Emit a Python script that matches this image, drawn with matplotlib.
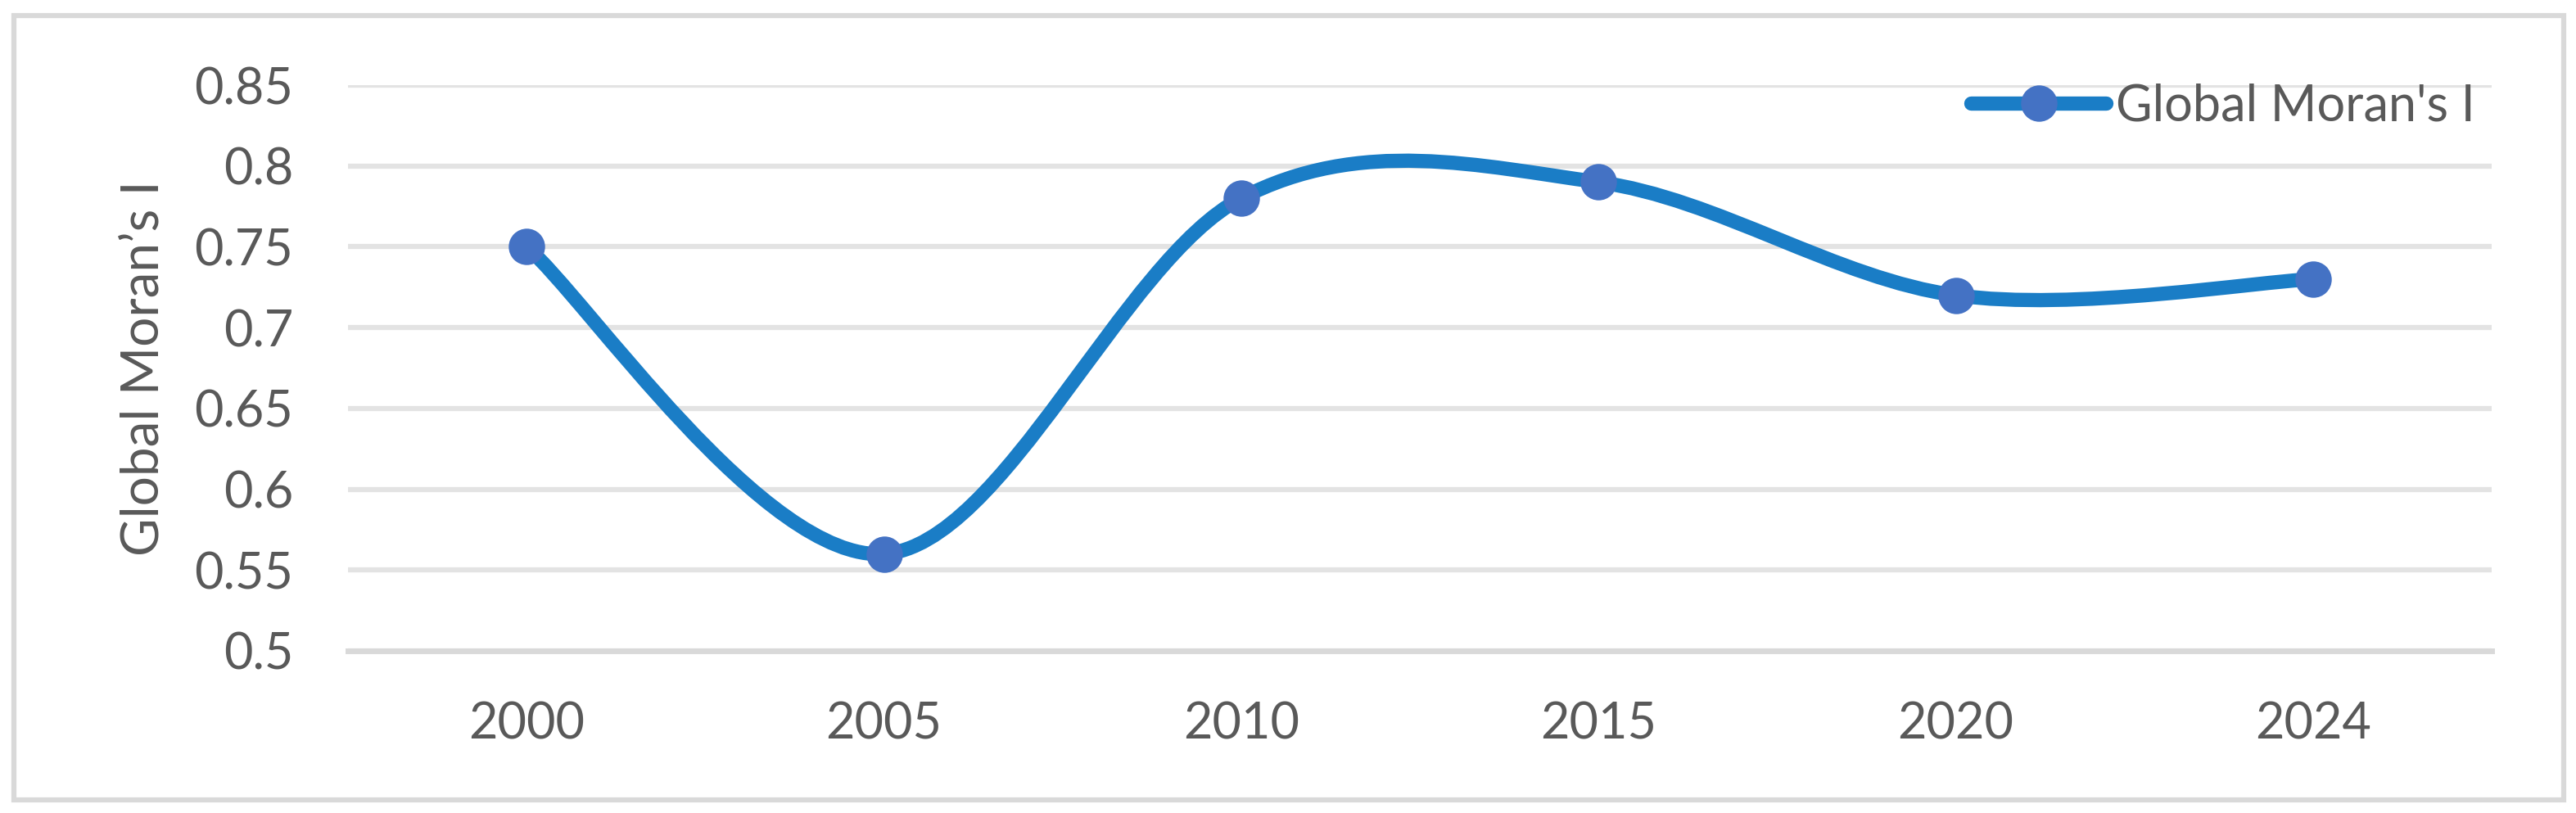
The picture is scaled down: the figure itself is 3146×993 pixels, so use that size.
import matplotlib
matplotlib.use("Agg")
import matplotlib.pyplot as plt
from matplotlib.path import Path
from matplotlib.patches import PathPatch, Rectangle
from matplotlib.lines import Line2D

# data
years = ["2000", "2005", "2010", "2015", "2020", "2024"]
morans_i = [0.75, 0.56, 0.78, 0.79, 0.72, 0.73]
y_ticks = [0.5, 0.55, 0.6, 0.65, 0.7, 0.75, 0.8, 0.85]

plt.rcParams['font.family'] = ['Lato', 'DejaVu Sans']
text_col = '#595959'
line_col = '#1a7dc6'
mark_col = '#4472c4'

W, H = 3146, 993
ax_l, ax_r, ax_t, ax_b = 425, 3043, 104, 795
fig = plt.figure(figsize=(W / 100, H / 100), dpi=100)
ax = fig.add_axes([ax_l / W, 1 - ax_b / H, (ax_r - ax_l) / W, (ax_b - ax_t) / H])

# outer chart border
fig.patches.append(Rectangle((17 / W, 1 - 977 / H), (3131 - 17) / W, (977 - 19) / H,
                             transform=fig.transFigure, fill=False,
                             edgecolor='#d9d9d9', linewidth=4.5))

x = list(range(len(years)))

# smoothed line like Excel: cubic bezier through the points (Catmull-Rom tangents)
pts = list(zip(x, morans_i))
verts = [pts[0]]
codes = [Path.MOVETO]
for i in range(len(pts) - 1):
    p0 = pts[i - 1] if i > 0 else pts[i]
    p1 = pts[i]
    p2 = pts[i + 1]
    p3 = pts[i + 2] if i + 2 < len(pts) else pts[i + 1]
    c1 = (p1[0] + (p2[0] - p0[0]) / 6, p1[1] + (p2[1] - p0[1]) / 6)
    c2 = (p2[0] - (p3[0] - p1[0]) / 6, p2[1] - (p3[1] - p1[1]) / 6)
    verts += [c1, c2, p2]
    codes += [Path.CURVE4] * 3
ax.add_patch(PathPatch(Path(verts, codes), fill=False, edgecolor=line_col,
                       linewidth=12.5, capstyle='round', joinstyle='round', zorder=3))
ax.plot(x, morans_i, linestyle='none', marker='o', markersize=32,
        markerfacecolor=mark_col, markeredgewidth=0, zorder=4)

ax.set_xlim(-0.5, len(years) - 0.5)
ax.set_ylim(0.5, 0.85)
ax.set_xticks(x)
ax.set_xticklabels(years)
ax.set_yticks(y_ticks)
ax.set_yticklabels(['%g' % v for v in y_ticks])
ax.tick_params(axis='both', length=0, labelsize=44, labelcolor=text_col)
ax.tick_params(axis='y', pad=48)
ax.tick_params(axis='x', pad=44)

ax.grid(axis='y', color='#e3e3e3', linewidth=4.5)
ax.set_axisbelow(True)
for s in ['top', 'right', 'left']:
    ax.spines[s].set_visible(False)
ax.spines['bottom'].set_color('#d9d9d9')
ax.spines['bottom'].set_linewidth(5)
ax.spines['bottom'].set_zorder(2)

ax.set_ylabel("Global Moran’s I", fontsize=46, color=text_col)
ax.yaxis.set_label_coords((204 - ax_l) / (ax_r - ax_l), 0.5)

handle = Line2D([], [], color=line_col, linewidth=12.5, solid_capstyle='round',
                marker='o', markersize=32, markerfacecolor=mark_col, markeredgewidth=0)
fig.legend([handle], ["Global Moran's I"], loc='center left',
           bbox_to_anchor=(2407 / W, 1 - 130 / H), frameon=False, fontsize=44,
           labelcolor=text_col, borderpad=0, borderaxespad=0,
           handlelength=2.7, handletextpad=0.2)

fig.savefig('out.png', dpi=100)
